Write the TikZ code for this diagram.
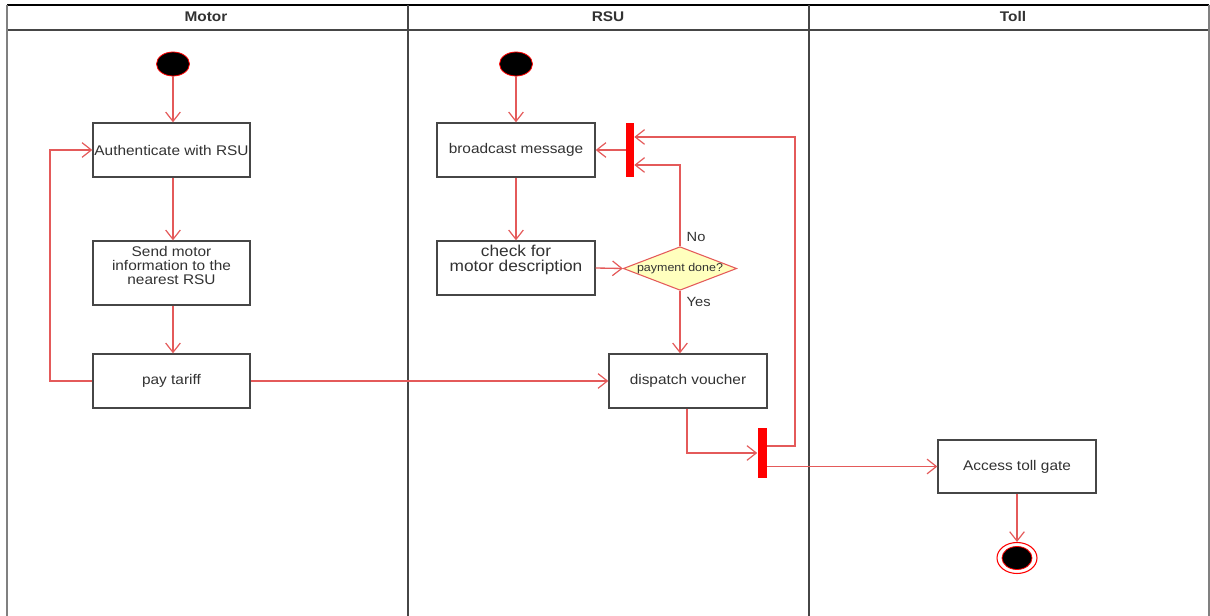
\documentclass[tikz,border=0pt]{standalone}
\usepackage{fontspec}
\setmainfont{Liberation Sans}[FakeStretch=1.1]
\usetikzlibrary{arrows.meta,shapes.geometric}
\definecolor{flowred}{RGB}{228,90,90}
\definecolor{txt}{RGB}{50,50,50}
\definecolor{lane}{RGB}{70,70,70}
\definecolor{dfill}{RGB}{255,255,190}
\tikzset{
  act/.style={draw=lane, line width=1pt, fill=white, text=txt, align=center,
    font=\fontsize{10.5}{11.5}\selectfont, inner sep=0pt},
  acttext/.style={text=txt, align=center, inner sep=0pt},
  flow/.style={draw=flowred, line width=1pt, -{Straight Barb[length=7pt,width=11pt,line width=0.9pt]}},
  startnode/.style={ellipse, fill=black, draw=red, line width=0.6pt, minimum width=33*0.75pt, minimum height=24*0.75pt, inner sep=0pt},
  bar/.style={fill=red, draw=none, inner sep=0pt},
  decision/.style={diamond, aspect=2.6, draw=flowred, fill=dfill, line width=0.8pt, inner sep=0pt,
    text=txt, font=\fontsize{8.5}{9}\selectfont},
  lanehead/.style={font=\bfseries\fontsize{10.5}{12}\selectfont, text=txt},
  guard/.style={font=\fontsize{10}{12}\selectfont, text=txt}
}
\begin{document}
\begin{tikzpicture}[x=0.75pt,y=-0.75pt]
\useasboundingbox (0,0) rectangle (1210,616);
% swimlanes
\draw[black, line width=1pt] (7,5) -- (1209,5);
\draw[lane, line width=1.3pt] (7,30) -- (1209,30);
\draw[gray, line width=1.5pt] (7,5) -- (7,616);
\draw[lane, line width=1.8pt] (408,5) -- (408,616);
\draw[lane, line width=1.8pt] (809,5) -- (809,616);
\draw[gray, line width=0.8pt] (1209,5) -- (1209,616);
\node[lanehead] (hm) at (206,17) {Motor};
\node[lanehead] (hr) at (608,17) {RSU};
\node[lanehead] (ht) at (1013,17) {Toll};

% Motor lane
\node[startnode] (s1) at (173,64) {};
\node[act, minimum width=157*0.75pt, minimum height=54*0.75pt] (auth) at (171.5,150) {Authenticate with RSU};
\node[act, minimum width=157*0.75pt, minimum height=64*0.75pt] (send) at (171.5,273) {};
\node[acttext, font=\fontsize{10.5}{10.5}\selectfont] (sendt) at (171.5,265) {Send motor\\information to the\\nearest RSU};
\node[act, minimum width=157*0.75pt, minimum height=54*0.75pt] (pay) at (171.5,381) {pay tariff};

% RSU lane
\node[startnode] (s2) at (516,64) {};
\node[act, minimum width=158*0.75pt, minimum height=54*0.75pt] (bc) at (516,150) {broadcast message};
\node[act, minimum width=158*0.75pt, minimum height=54*0.75pt] (chk) at (516,268) {};
\node[acttext, font=\fontsize{11.8}{11.2}\selectfont] (chkt) at (516,259.5) {check for\\motor description};
\node[bar, minimum width=8*0.75pt, minimum height=54*0.75pt] (bar1) at (630,150) {};
\node[decision, minimum width=113*0.75pt, minimum height=43*0.75pt] (dec) at (680,268.5) {payment done?};
\node[act, minimum width=158*0.75pt, minimum height=54*0.75pt] (disp) at (688,381) {dispatch voucher};
\node[bar, minimum width=9*0.75pt, minimum height=49*0.75pt] (bar2) at (762,453) {};
\node[guard, anchor=west] (lno) at (682,237) {No};
\node[guard, anchor=west] (lyes) at (682,302) {Yes};

% Toll lane
\node[act, minimum width=158*0.75pt, minimum height=53*0.75pt] (acc) at (1017,466.5) {Access toll gate};
\node[ellipse, draw=red, line width=0.8pt, fill=white, minimum width=40*0.75pt, minimum height=31*0.75pt, inner sep=0pt] (endo) at (1017,558) {};
\node[ellipse, draw=red, line width=0.6pt, fill=black, minimum width=30*0.75pt, minimum height=23*0.75pt, inner sep=0pt] (endi) at (1017,558) {};

% helper coordinates
\coordinate (pl) at (50,0);
\coordinate (nY) at (0,165);
\coordinate (rA) at (0,446);
\coordinate (rB) at (795,137);
\coordinate (dx) at (687,0);
\coordinate (mx) at (173,0);

% connectors
\draw[flow] (s1) -- (s1 |- auth.north);
\draw[flow] (mx |- auth.south) -- (mx |- send.north);
\draw[flow] (mx |- send.south) -- (mx |- pay.north);
\draw[flow] (pay.west) -- (pl |- pay.west) -- (pl |- auth.west) -- (auth.west);
\draw[flow] (pay.east) -- (disp.west);
\draw[flow] (s2) -- (bc);
\draw[flow] (bc) -- (chk);
\draw[flow] (bar1.west) -- (bc.east);
\draw[flow] (chk.east) -- (dec.west);
\draw[flow] (dec.north) -- (dec.north |- nY) -- (bar1.east |- nY);
\draw[flow] (dec.south) -- (dec.south |- disp.north);
\draw[flow] (dx |- disp.south) |- (bar2.west);
\draw[flow] (bar2.east |- rA) -| (rB) -- (bar1.east |- rB);
\draw[flow] (bar2.east |- acc.west) -- (acc.west);
\draw[flow] (acc) -- (endo);
\end{tikzpicture}
\end{document}
